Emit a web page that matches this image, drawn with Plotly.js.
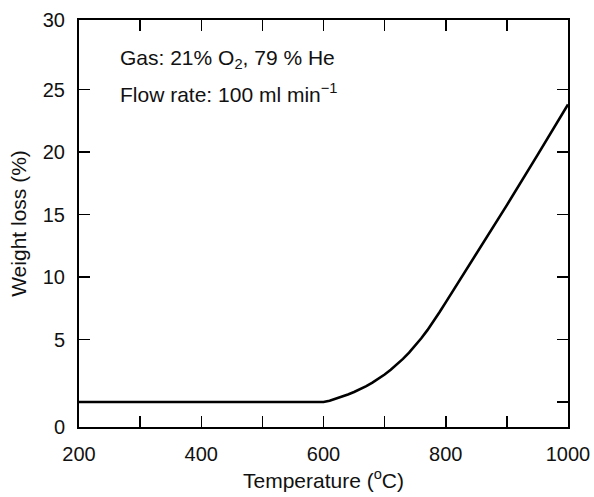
<!DOCTYPE html>
<html>
<head>
<meta charset="utf-8">
<script src="https://cdn.plot.ly/plotly-3.0.1.min.js"></script>
<style>html,body{margin:0;padding:0;background:#fff;}#chart{width:594px;height:497px;}</style>
</head>
<body>
<div id="chart"></div>
<script>
// Temperature (°C)
const temperature = [200, 300, 400, 500, 600, 610, 620, 630, 640, 650, 660, 670, 680, 690, 700, 710, 720, 730, 740, 750, 760, 770, 780, 790, 800, 820, 850, 900, 950, 1000];
// Weight loss (%)
const weightLoss = [0, 0, 0, 0, 0, 0.1, 0.25, 0.42, 0.6, 0.8, 1.02, 1.27, 1.55, 1.86, 2.2, 2.58, 3.0, 3.45, 3.95, 4.5, 5.1, 5.75, 6.45, 7.2, 7.97, 9.52, 11.85, 15.75, 19.75, 23.8];

const xTickVals = [200, 400, 600, 800, 1000];
const xTickText = ['200', '400', '600', '800', '1000'];
const yTickVals = [-2, 5, 10, 15, 20, 25, 30.56];
const yTickText = ['0', '5', '10', '15', '20', '25', '30'];
const yMinorTickVals = [0];

const family = 'Liberation Sans, Arial, sans-serif';
const tickFont = {family: family, size: 20, color: '#111'};
const titleFont = {family: family, size: 21, color: '#111'};
const noteFont = {family: family, size: 21, color: '#111'};

const trace = {
  x: temperature, y: weightLoss, type: 'scatter', mode: 'lines',
  line: {color: '#000', width: 2.6}, hoverinfo: 'skip'
};

const layout = {
  width: 594, height: 497,
  margin: {l: 79, r: 26, t: 20, b: 70},
  paper_bgcolor: '#fff', plot_bgcolor: '#fff',
  font: tickFont,
  showlegend: false,
  xaxis: {
    range: [200, 1000], tickmode: 'array', tickvals: xTickVals, ticktext: xTickText,
    ticks: 'inside', ticklen: 11, tickwidth: 1.5, tickcolor: '#000',
    minor: {tickmode: 'linear', tick0: 200, dtick: 100, ticks: 'inside', ticklen: 11, tickwidth: 1.5, tickcolor: '#000', showgrid: false},
    showline: true, linecolor: '#000', linewidth: 2, mirror: 'ticks',
    showgrid: false, zeroline: false, ticklabelstandoff: 8,
    tickfont: tickFont,
    title: {text: 'Temperature (<sup>o</sup>C)', font: titleFont, standoff: 9}
  },
  yaxis: {
    range: [-2, 30.56], tickmode: 'array', tickvals: yTickVals, ticktext: yTickText,
    ticks: 'inside', ticklen: 11, tickwidth: 1.5, tickcolor: '#000',
    minor: {tickmode: 'array', tickvals: yMinorTickVals, ticks: 'inside', ticklen: 11, tickwidth: 1.5, tickcolor: '#000', showgrid: false},
    showline: true, linecolor: '#000', linewidth: 2, mirror: 'ticks',
    showgrid: false, zeroline: false, ticklabelstandoff: 8,
    tickfont: tickFont,
    title: {text: 'Weight loss (%)', font: titleFont, standoff: 10}
  },
  annotations: [
    {xref: 'paper', yref: 'paper', x: 0.08, y: 0.905, xanchor: 'left', yanchor: 'middle',
     text: 'Gas: 21% O<sub>2</sub>, 79 % He', showarrow: false, font: noteFont},
    {xref: 'paper', yref: 'paper', x: 0.08, y: 0.82, xanchor: 'left', yanchor: 'middle',
     text: 'Flow rate: 100 ml min<sup>−1</sup>', showarrow: false, font: noteFont}
  ]
};

Plotly.newPlot('chart', [trace], layout, {displayModeBar: false, staticPlot: true});
</script>
</body>
</html>
